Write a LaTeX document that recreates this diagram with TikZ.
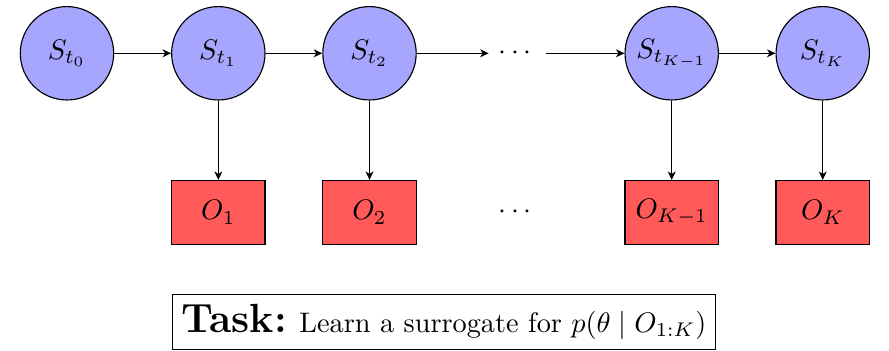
\documentclass[tikz,border=0pt]{standalone}
\usepackage{amsmath}
\usetikzlibrary{arrows.meta}

\begin{document}
\begin{tikzpicture}[>={Stealth[length=3pt,width=2.8pt,inset=0.9pt]},
  state/.style={circle, draw, fill=blue!35, minimum size=1.16cm, inner sep=1pt},
  obs/.style={rectangle, draw, fill=red!65, minimum width=1.16cm, minimum height=0.79cm}]
  % Frame of the picture
  \useasboundingbox (0,0) rectangle (11.043,-4.348);
  % Hidden states
  \node[state] (s0) at (0.832,-0.662) {$S_{t_0}$};
  \node[state] (s1) at (2.712,-0.662) {$S_{t_1}$};
  \node[state] (s2) at (4.590,-0.662) {$S_{t_2}$};
  \node (sdots) at (6.428,-0.662) {$\cdots$};
  \node[state] (skm) at (8.344,-0.662) {$S_{t_{K-1}}$};
  \node[state] (sk) at (10.220,-0.662) {$S_{t_K}$};
  % Observations
  \node[obs] (o1) at (2.712,-2.637) {$O_1$};
  \node[obs] (o2) at (4.590,-2.637) {$O_2$};
  \node (odots) at (6.428,-2.637) {$\cdots$};
  \node[obs] (okm) at (8.344,-2.637) {$O_{K-1}$};
  \node[obs] (ok) at (10.220,-2.637) {$O_K$};
  % Transitions
  \draw[->] (s0) -- (s1);
  \draw[->] (s1) -- (s2);
  \draw[->] (s2) -- (sdots);
  \draw[->] (sdots) -- (skm);
  \draw[->] (skm) -- (sk);
  % Emissions
  \draw[->] (s1) -- (o1);
  \draw[->] (s2) -- (o2);
  \draw[->] (skm) -- (okm);
  \draw[->] (sk) -- (ok);
  % Task box
  \node[draw] (task) at (5.515,-4.0) {\textbf{\Large Task:} Learn a surrogate for $p(\theta \mid O_{1:K})$};
\end{tikzpicture}
\end{document}
